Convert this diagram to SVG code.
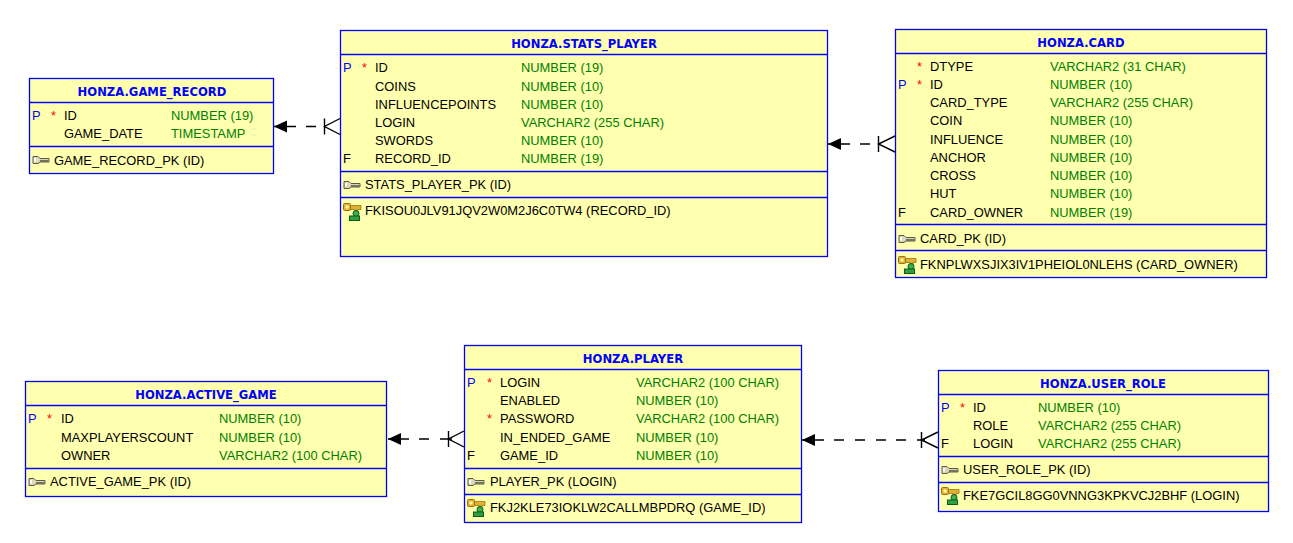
<svg xmlns="http://www.w3.org/2000/svg" width="1293" height="543" viewBox="0 0 1293 543">
<style>
text{font-family:"Liberation Sans",Arial,sans-serif;font-size:12.9px;fill:#000;dominant-baseline:central}
.box{fill:#ffffb0;stroke:#0000ff;stroke-width:1.3}
.div{stroke:#0000ff;stroke-width:1.3;fill:none}
.title{font-weight:bold;font-size:11.6px;fill:#0000ff;text-anchor:middle;font-family:"DejaVu Sans",sans-serif}
.p{fill:#0000ff}
.s{fill:#ff0000}
.t{fill:#008000}
.conn{stroke:#000;stroke-width:1.4;fill:none}
</style>
<defs>
<marker id="arrow" markerUnits="userSpaceOnUse" markerWidth="14" markerHeight="14" refX="0" refY="7" orient="auto"><path d="M0 7L13 1V13Z" fill="#000"/></marker>
<g id="pk"><path d="M1 1.500H6L8 3.500H17V7H8L6 8.500H1Z" fill="#d9d9b8" stroke="#5a5a4a" stroke-width="1"/><path d="M8 5H16.500V7H8Z" fill="#77705a"/><rect x="2" y="3" width="2" height="3.500" fill="#fff"/></g>
<g id="fk"><rect x="0.500" y="0.500" width="7" height="7" rx="1" fill="#e2b030" stroke="#9a7414"/><rect x="2.500" y="2.500" width="3" height="3" fill="#ffffb0"/><path d="M7.500 2.500H18V6.500H15V8H12V6.500H7.500Z" fill="#e2b030" stroke="#9a7414" stroke-width="0.800"/><circle cx="13" cy="10.500" r="3" fill="#3cb04a" stroke="#0a5a1a"/><rect x="6.500" y="13" width="10" height="4.500" fill="#2fa040" stroke="#0a5a1a"/></g>
</defs>
<g id="connectors">
<path class="conn" marker-start="url(#arrow)" d="M274 126.500H296M306 126.500H316"/><path class="conn" d="M324.500 118.500V134.500M340 118.500L324.500 126.500L340 134.500"/>
<path class="conn" marker-start="url(#arrow)" d="M828 144H850M860 144H870"/><path class="conn" d="M878.500 136V152M895 136L878.500 144L895 152"/>
<path class="conn" marker-start="url(#arrow)" d="M388 439H409M419 439H429M440 439H452"/><path class="conn" d="M448.500 431V447M464 431L448.500 439L464 447"/>
<path class="conn" marker-start="url(#arrow)" d="M802 440H824M834 440H844M855 440H865M876 440H886M896 440H906M917 440H925"/><path class="conn" d="M921.500 432V448M938 432L921.500 440L938 448"/>
</g>
<g id="game_record">
<rect class="box" x="29.500" y="78.500" width="244" height="95"/><path class="div" d="M29.500 102.500H273.500M29.500 146.500H273.500"/>
<text class="title" x="152" y="92">HONZA.GAME_RECORD</text>
<text class="p" x="32" y="115">P</text><text class="s" x="51" y="115">*</text><text x="64" y="115">ID</text><text class="t" x="171" y="115">NUMBER (19)</text>
<text x="64" y="133">GAME_DATE</text><text class="t" x="171" y="133">TIMESTAMP</text>
<use href="#pk" x="32" y="155"/><text x="54" y="160">GAME_RECORD_PK (ID)</text>
</g>
<g id="stats_player">
<rect class="box" x="340.500" y="30.500" width="487" height="226"/><path class="div" d="M340.500 54.500H827.500M340.500 171.500H827.500M340.500 197.500H827.500"/>
<text class="title" x="584" y="44">HONZA.STATS_PLAYER</text>
<text class="p" x="343" y="67">P</text><text class="s" x="362" y="67">*</text><text x="375" y="67">ID</text><text class="t" x="521" y="67">NUMBER (19)</text>
<text x="375" y="86">COINS</text><text class="t" x="521" y="86">NUMBER (10)</text>
<text x="375" y="104">INFLUENCEPOINTS</text><text class="t" x="521" y="104">NUMBER (10)</text>
<text x="375" y="122">LOGIN</text><text class="t" x="521" y="122">VARCHAR2 (255 CHAR)</text>
<text x="375" y="140">SWORDS</text><text class="t" x="521" y="140">NUMBER (10)</text>
<text x="343" y="158">F</text><text x="375" y="158">RECORD_ID</text><text class="t" x="521" y="158">NUMBER (19)</text>
<use href="#pk" x="343" y="180"/><text x="365" y="184">STATS_PLAYER_PK (ID)</text>
<use href="#fk" x="343" y="203"/><text x="365" y="210">FKISOU0JLV91JQV2W0M2J6C0TW4 (RECORD_ID)</text>
</g>
<g id="card">
<rect class="box" x="895.500" y="29.500" width="371" height="248"/><path class="div" d="M895.500 53.500H1266.500M895.500 224.500H1266.500M895.500 250.500H1266.500"/>
<text class="title" x="1081" y="43">HONZA.CARD</text>
<text class="s" x="917" y="66">*</text><text x="930" y="66">DTYPE</text><text class="t" x="1050" y="66">VARCHAR2 (31 CHAR)</text>
<text class="p" x="898" y="84">P</text><text class="s" x="917" y="84">*</text><text x="930" y="84">ID</text><text class="t" x="1050" y="84">NUMBER (10)</text>
<text x="930" y="102">CARD_TYPE</text><text class="t" x="1050" y="102">VARCHAR2 (255 CHAR)</text>
<text x="930" y="120">COIN</text><text class="t" x="1050" y="120">NUMBER (10)</text>
<text x="930" y="139">INFLUENCE</text><text class="t" x="1050" y="139">NUMBER (10)</text>
<text x="930" y="157">ANCHOR</text><text class="t" x="1050" y="157">NUMBER (10)</text>
<text x="930" y="175">CROSS</text><text class="t" x="1050" y="175">NUMBER (10)</text>
<text x="930" y="193">HUT</text><text class="t" x="1050" y="193">NUMBER (10)</text>
<text x="898" y="212">F</text><text x="930" y="212">CARD_OWNER</text><text class="t" x="1050" y="212">NUMBER (19)</text>
<use href="#pk" x="898" y="234"/><text x="920" y="238">CARD_PK (ID)</text>
<use href="#fk" x="898" y="256"/><text x="920" y="264">FKNPLWXSJIX3IV1PHEIOL0NLEHS (CARD_OWNER)</text>
</g>
<g id="active_game">
<rect class="box" x="25.500" y="381.500" width="361" height="115"/><path class="div" d="M25.500 405.500H386.500M25.500 468.500H386.500"/>
<text class="title" x="206" y="395">HONZA.ACTIVE_GAME</text>
<text class="p" x="28" y="418">P</text><text class="s" x="47" y="418">*</text><text x="61" y="418">ID</text><text class="t" x="219" y="418">NUMBER (10)</text>
<text x="61" y="437">MAXPLAYERSCOUNT</text><text class="t" x="219" y="437">NUMBER (10)</text>
<text x="61" y="455">OWNER</text><text class="t" x="219" y="455">VARCHAR2 (100 CHAR)</text>
<use href="#pk" x="28" y="477"/><text x="50" y="481">ACTIVE_GAME_PK (ID)</text>
</g>
<g id="player">
<rect class="box" x="464.500" y="345.500" width="337" height="177"/><path class="div" d="M464.500 369.500H801.500M464.500 468.500H801.500M464.500 494.500H801.500"/>
<text class="title" x="633" y="359">HONZA.PLAYER</text>
<text class="p" x="467" y="382">P</text><text class="s" x="487" y="382">*</text><text x="500" y="382">LOGIN</text><text class="t" x="636" y="382">VARCHAR2 (100 CHAR)</text>
<text x="500" y="400">ENABLED</text><text class="t" x="636" y="400">NUMBER (10)</text>
<text class="s" x="487" y="418">*</text><text x="500" y="418">PASSWORD</text><text class="t" x="636" y="418">VARCHAR2 (100 CHAR)</text>
<text x="500" y="437">IN_ENDED_GAME</text><text class="t" x="636" y="437">NUMBER (10)</text>
<text x="467" y="455">F</text><text x="500" y="455">GAME_ID</text><text class="t" x="636" y="455">NUMBER (10)</text>
<use href="#pk" x="467" y="477"/><text x="490" y="481">PLAYER_PK (LOGIN)</text>
<use href="#fk" x="467" y="499"/><text x="490" y="507">FKJ2KLE73IOKLW2CALLMBPDRQ (GAME_ID)</text>
</g>
<g id="user_role">
<rect class="box" x="938.500" y="370.500" width="330" height="141"/><path class="div" d="M938.500 394.500H1268.500M938.500 456.500H1268.500M938.500 482.500H1268.500"/>
<text class="title" x="1103" y="384">HONZA.USER_ROLE</text>
<text class="p" x="941" y="407">P</text><text class="s" x="960" y="407">*</text><text x="973" y="407">ID</text><text class="t" x="1038" y="407">NUMBER (10)</text>
<text x="973" y="425">ROLE</text><text class="t" x="1038" y="425">VARCHAR2 (255 CHAR)</text>
<text x="941" y="443">F</text><text x="973" y="443">LOGIN</text><text class="t" x="1038" y="443">VARCHAR2 (255 CHAR)</text>
<use href="#pk" x="941" y="465"/><text x="963" y="469">USER_ROLE_PK (ID)</text>
<use href="#fk" x="941" y="487"/><text x="963" y="495">FKE7GCIL8GG0VNNG3KPKVCJ2BHF (LOGIN)</text>
</g>
</svg>
